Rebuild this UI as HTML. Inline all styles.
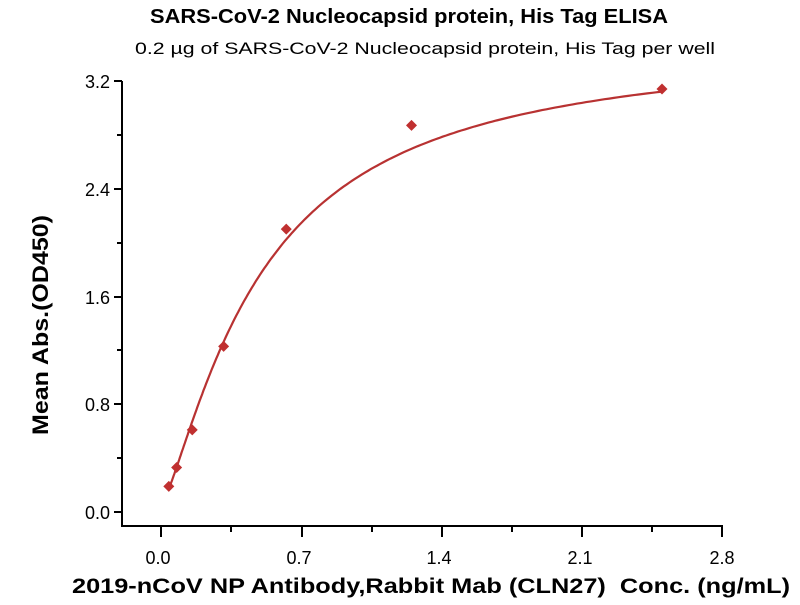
<!DOCTYPE html>
<html><head><meta charset="utf-8"><style>
body{margin:0;background:#fff}
text{font-family:"Liberation Sans",sans-serif}
</style></head><body>
<svg id="s" width="800" height="600" xmlns="http://www.w3.org/2000/svg">
<text x="409" y="23" text-anchor="middle" font-size="20" font-weight="bold" textLength="518" lengthAdjust="spacingAndGlyphs">SARS-CoV-2 Nucleocapsid protein, His Tag ELISA</text>
<text x="425" y="54" text-anchor="middle" font-size="17" textLength="580" lengthAdjust="spacingAndGlyphs">0.2 µg of SARS-CoV-2 Nucleocapsid protein, His Tag per well</text>
<g stroke="#000" stroke-width="2" fill="none">
<path d="M122,81 V526 H723"/>
<path d="M114,81H122M114,189H122M114,297H122M114,404H122M114,512H122"/>
<path d="M117,135H122M117,243H122M117,350H122M117,458H122"/>
<path d="M161,526V537M302,526V537M442,526V537M582,526V537M722,526V537"/>
<path d="M231,526V532M372,526V532M512,526V532M652,526V532"/>
</g>
<g font-size="18" text-anchor="end">
<text x="110" y="88">3.2</text><text x="110" y="196">2.4</text><text x="110" y="304">1.6</text><text x="110" y="411">0.8</text><text x="110" y="519">0.0</text>
</g>
<g font-size="18" text-anchor="middle">
<text x="158" y="564">0.0</text><text x="299" y="564">0.7</text><text x="439" y="564">1.4</text><text x="580" y="564">2.1</text><text x="722" y="564">2.8</text>
</g>
<text transform="translate(48,325) rotate(-90)" text-anchor="middle" font-size="22" font-weight="bold" textLength="220" lengthAdjust="spacingAndGlyphs">Mean Abs.(OD450)</text>
<text x="431" y="593" text-anchor="middle" font-size="21" font-weight="bold" xml:space="preserve" textLength="718" lengthAdjust="spacingAndGlyphs">2019-nCoV NP Antibody,Rabbit Mab (CLN27)  Conc. (ng/mL)</text>
<path id="c" stroke="#b83232" stroke-width="2.2" fill="none"/>
<g id="p" fill="#c03030"></g>
</svg>
<script>
var X=function(x){return 161+x*200.4},Y=function(y){return 512-y*134.7};
var d="";for(var i=0;i<=200;i++){var x=0.039+(2.5-0.039)*Math.pow(i/200,2);var t=Math.pow(x/0.5,1.3);var y=0.05+3.45*t/(1+t);d+=(i?"L":"M")+X(x).toFixed(1)+","+Y(y).toFixed(1);}
document.getElementById("c").setAttribute("d",d);
var pts=[[0.039,0.19],[0.078,0.33],[0.156,0.61],[0.3125,1.23],[0.625,2.10],[1.25,2.87],[2.5,3.14]];
var g=document.getElementById("p"),h="";
pts.forEach(function(p){var x=X(p[0]),y=Y(p[1]);h+='<path d="M'+x+','+(y-5.5)+'L'+(x+5.5)+','+y+'L'+x+','+(y+5.5)+'L'+(x-5.5)+','+y+'Z"/>';});
g.innerHTML=h;
</script>
</body></html>
